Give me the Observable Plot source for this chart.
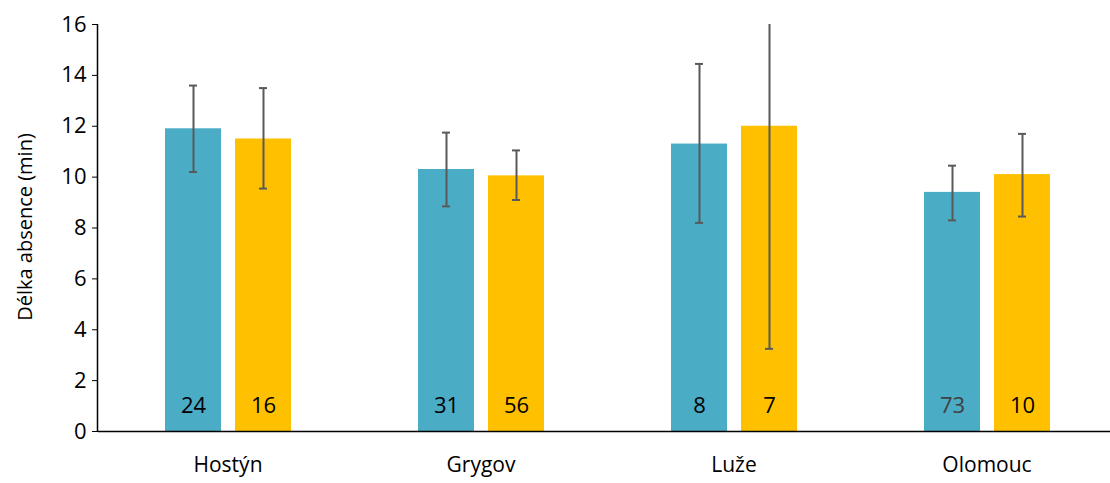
<!DOCTYPE html>
<html><head><meta charset="utf-8">
<script src="https://cdn.jsdelivr.net/npm/d3@7"></script>
<script src="https://cdn.jsdelivr.net/npm/@observablehq/plot@0.6"></script>
<style>body{margin:0;background:#fff}</style>
</head><body><div id="chart"></div>
<script>
const sites = ["Hostýn", "Grygov", "Luže", "Olomouc"];
const series = ["a", "b"];
const means = [[11.9, 11.5], [10.3, 10.05], [11.3, 12.0], [9.4, 10.1]];
const lows = [[10.2, 9.55], [8.85, 9.1], [8.2, 3.25], [8.3, 8.45]];
const highs = [[13.6, 13.5], [11.75, 11.05], [14.45, 20.75], [10.45, 11.7]];
const counts = [[24, 16], [31, 56], [8, 7], [73, 10]];
const colors = ["#4bacc6", "#ffc000"];

const rows = sites.flatMap((s, i) => series.map((k, j) => ({
  site: s, s: k, mean: means[i][j], lo: lows[i][j], hi: highs[i][j], n: counts[i][j]
})));

const plot = Plot.plot({
  width: 1110, height: 483,
  marginLeft: 97, marginRight: 0, marginTop: 24, marginBottom: 52,
  style: { fontFamily: "'Open Sans', sans-serif", fontSize: "20px", color: "#000" },
  fx: { domain: sites, padding: 0, label: null, axis: null },
  x: { domain: series, paddingInner: 0.2, paddingOuter: 0.9, axis: null },
  y: { domain: [0, 16], label: null, axis: null },
  color: { domain: series, range: colors },
  marks: [
    Plot.barY(rows, { fx: "site", x: "s", y: "mean", fill: "s", dx: 3 }),
    Plot.ruleX(rows, { fx: "site", x: "s", y1: "lo", y2: "hi", stroke: "#595959", strokeWidth: 2, clip: true, dx: 3 }),
    Plot.tickY(rows, { fx: "site", x: "s", y: "lo", stroke: "#595959", strokeWidth: 2, inset: 24, dx: 3 }),
    Plot.tickY(rows.filter(d => d.hi <= 16), { fx: "site", x: "s", y: "hi", stroke: "#595959", strokeWidth: 2, inset: 24, dx: 3 }),
    Plot.text(rows, { fx: "site", x: "s", y: 1.0, text: "n", fontSize: 22, dx: 3, fill: d => d.n === 73 ? "#404040" : "#000" }),
    Plot.ruleY([0], { stroke: "#000", strokeWidth: 1.5 }),
    Plot.axisFx({ anchor: "bottom", tickSize: 0, tickPadding: 26, fontSize: 21, label: null, dx: 3 }),
    Plot.axisY({ ticks: d3.range(0, 17, 2), tickSize: 6, tickPadding: 6, fontSize: 22, label: null, stroke: "#000", strokeOpacity: 1 })
  ]
});
const div = document.getElementById("chart");
div.style.position = "relative";
div.appendChild(plot);
// y axis line
const [y0, y1] = plot.scale("y").range;
d3.select(plot).append("line")
  .attr("x1", 97.5).attr("x2", 97.5).attr("y1", y0).attr("y2", y1)
  .attr("stroke", "#000").attr("stroke-width", 1.5);
const lab = document.createElement("div");
lab.textContent = "Délka absence (min)";
lab.style.cssText = "position:absolute;left:24px;top:227px;transform:translate(-50%,-50%) rotate(-90deg);font:20px 'Open Sans',sans-serif;white-space:nowrap";
div.appendChild(lab);
</script>
</body></html>
